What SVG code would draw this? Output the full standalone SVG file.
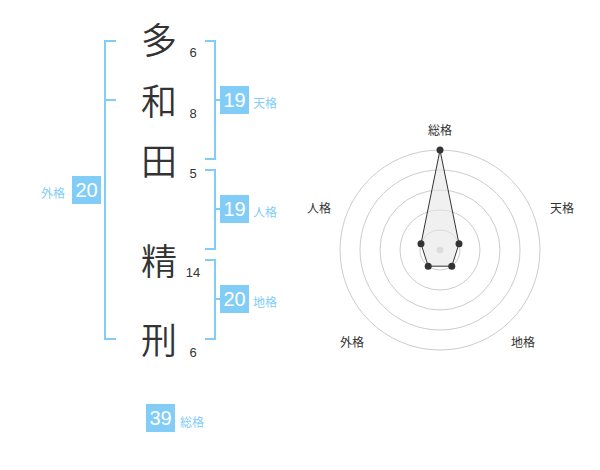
<svg xmlns="http://www.w3.org/2000/svg" width="600" height="470" viewBox="0 0 600 470">
<style>
.kanji{font-family:"Noto Sans CJK JP","Noto Sans CJK SC",sans-serif;font-size:36px;font-weight:350;fill:#333;text-anchor:middle}
.stroke{font-family:"Liberation Sans",Arial,sans-serif;font-size:13px;fill:#333;text-anchor:middle}
.br{fill:none;stroke:#82cdf8;stroke-width:2}
.box{fill:#82cdf8}
.bnum{font-family:"Liberation Sans",Arial,sans-serif;font-size:20px;fill:#fff;text-anchor:middle}
.lab{font-family:"Noto Sans CJK JP","Noto Sans CJK SC",sans-serif;font-size:12px;fill:#82cdf8}
.ring{fill:none;stroke:#ccc;stroke-width:1}
.rlab{font-family:"Noto Sans CJK JP","Noto Sans CJK SC",sans-serif;font-size:12px;fill:#333;text-anchor:middle}
.pt{fill:#333}
</style>
<g id="chars">
<text class="kanji" x="159" y="54">多</text>
<text class="kanji" x="159" y="115">和</text>
<text class="kanji" x="159" y="175">田</text>
<text class="kanji" x="159" y="275">精</text>
<text class="kanji" x="159" y="354">刑</text>
</g>
<g id="strokes">
<text class="stroke" x="193" y="57">6</text>
<text class="stroke" x="193" y="118">8</text>
<text class="stroke" x="193" y="178">5</text>
<text class="stroke" x="193" y="277">14</text>
<text class="stroke" x="193" y="357">6</text>
</g>
<g id="connectors">
<path class="br" d="M116,41 H105 V339 H116 M105,100 H116"/>
<path class="br" d="M205,41 H215 V159 H205 M215,100 H220"/>
<path class="br" d="M205,170 H215 V249 H205 M215,209 H220"/>
<path class="br" d="M205,260 H215 V339 H205 M215,299 H220"/>
</g>
<g id="gaikaku">
<rect class="box" x="72" y="176" width="29" height="28"/>
<text class="bnum" x="86.5" y="197">20</text>
<text class="lab" x="41" y="198">外格</text>
</g>
<g id="tenkaku">
<rect class="box" x="220" y="86" width="29" height="28"/>
<text class="bnum" x="234.5" y="107">19</text>
<text class="lab" x="253" y="108">天格</text>
</g>
<g id="jinkaku">
<rect class="box" x="220" y="195" width="29" height="28"/>
<text class="bnum" x="234.5" y="216">19</text>
<text class="lab" x="253" y="217">人格</text>
</g>
<g id="chikaku">
<rect class="box" x="220" y="285" width="29" height="28"/>
<text class="bnum" x="234.5" y="306">20</text>
<text class="lab" x="253" y="307">地格</text>
</g>
<g id="soukaku">
<rect class="box" x="146" y="404" width="29" height="28"/>
<text class="bnum" x="160.5" y="425">39</text>
<text class="lab" x="180" y="427">総格</text>
</g>
<g id="radar">
<circle class="ring" cx="440" cy="250" r="20"/>
<circle class="ring" cx="440" cy="250" r="40"/>
<circle class="ring" cx="440" cy="250" r="60"/>
<circle class="ring" cx="440" cy="250" r="80"/>
<circle class="ring" cx="440" cy="250" r="100"/>
<circle cx="440" cy="250" r="3.5" fill="#ccc"/>
<polygon points="440,150 459,243.8 451.8,266.2 428.2,266.2 421,243.8" fill="#e6e6e6" fill-opacity="0.6" stroke="#333" stroke-width="1"/>
<circle class="pt" cx="440" cy="150" r="3.5"/>
<circle class="pt" cx="459" cy="243.8" r="3.5"/>
<circle class="pt" cx="451.8" cy="266.2" r="3.5"/>
<circle class="pt" cx="428.2" cy="266.2" r="3.5"/>
<circle class="pt" cx="421" cy="243.8" r="3.5"/>
<text class="rlab" x="440" y="135">総格</text>
<text class="rlab" x="562" y="213">天格</text>
<text class="rlab" x="523" y="347">地格</text>
<text class="rlab" x="352" y="347">外格</text>
<text class="rlab" x="319" y="213">人格</text>
</g>
</svg>
